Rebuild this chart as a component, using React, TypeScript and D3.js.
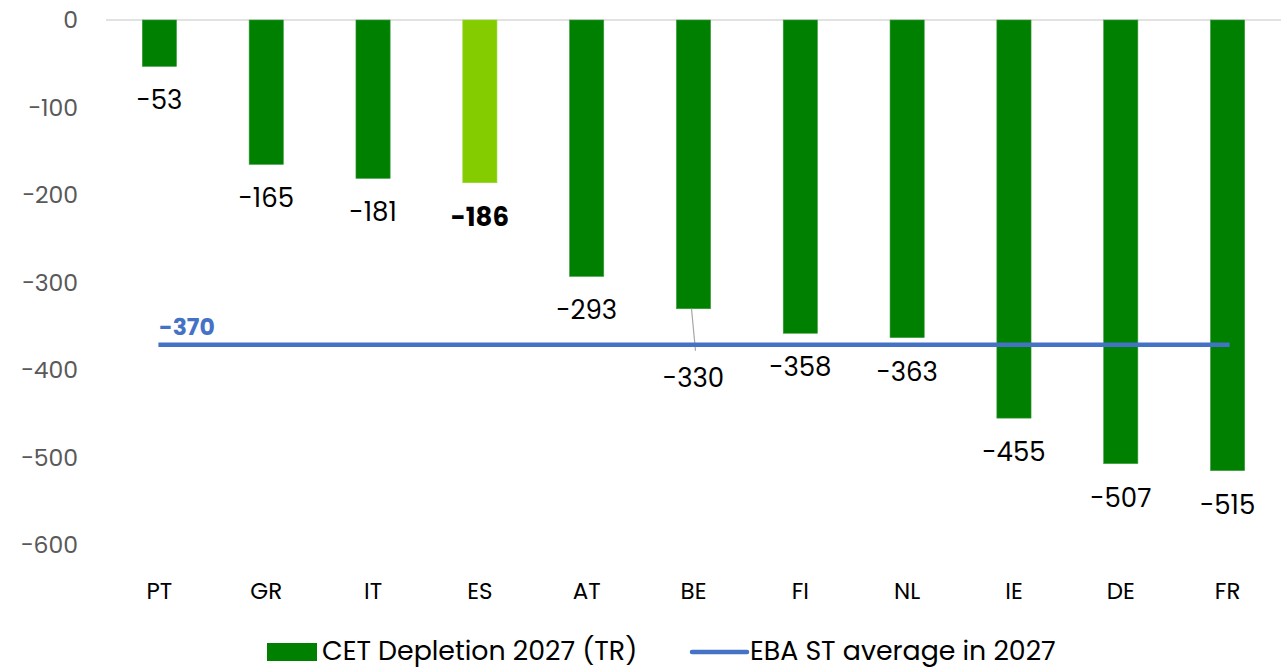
import React from "react";
import * as d3 from "d3";

const categories = ["PT", "GR", "IT", "ES", "AT", "BE", "FI", "NL", "IE", "DE", "FR"];
const depletion = [-53, -165, -181, -186, -293, -330, -358, -363, -455, -507, -515];
const highlight = ["ES"];
const ebaAverage = -370;
const yTicks = [0, -100, -200, -300, -400, -500, -600];
const seriesNames = ["CET Depletion 2027 (TR)", "EBA ST average in 2027"];

const W = 1281;
const H = 668;
const FONT = "Poppins, 'Open Sans', 'Noto Sans', sans-serif";

export default function App() {
  const x = d3.scaleBand<string>().domain(categories).range([106, 1281]).paddingInner(0.68).paddingOuter(0.34);
  const y = d3.scaleLinear().domain([0, -600]).range([20, 545]);
  const bw = x.bandwidth();
  const xc = (c: string) => (x(c) as number) + bw / 2;

  return (
    <svg
      width={W}
      height={H}
      style={{ position: "fixed", left: 0, top: 0, display: "block", fontFamily: FONT }}
    >
      <rect width={W} height={H} fill="#fff" />
      <line x1={106} x2={1281} y1={y(0)} y2={y(0)} stroke="#d9d9d9" strokeWidth={1.5} />
      {yTicks.map((t) => (
        <text key={t} x={78} y={y(t)} dy="0.35em" textAnchor="end" fontSize={23.5} fill="#595959">
          {d3.format("d")(t)}
        </text>
      ))}
      {categories.map((c, i) => {
        const v = depletion[i];
        const hl = highlight.includes(c);
        const moved = c === "BE";
        const ly = y(v) + (moved ? 69 : 34);
        return (
          <g key={c}>
            <rect
              x={x(c)}
              y={y(0)}
              width={bw}
              height={y(v) - y(0)}
              fill={hl ? "#84cc00" : "#008000"}
              stroke={hl ? "#96d83a" : "#3a9a3a"}
              strokeWidth={0.6}
            />
            {moved && (
              <line x1={xc(c) - 2} y1={y(v)} x2={xc(c) + 2} y2={ly - 27} stroke="#a6a6a6" strokeWidth={1.2} />
            )}
            <text
              x={xc(c)}
              y={ly}
              dy="0.35em"
              textAnchor="middle"
              fontSize={26}
              fontWeight={hl ? 700 : 400}
              fill="#000"
            >
              {v}
            </text>
            <text x={xc(c)} y={591} dy="0.35em" textAnchor="middle" fontSize={23} fill="#000">
              {c}
            </text>
          </g>
        );
      })}
      <line
        x1={xc(categories[0]) - 1}
        x2={xc(categories[categories.length - 1]) + 2}
        y1={y(ebaAverage) + 1}
        y2={y(ebaAverage) + 1}
        stroke="#4472c4"
        strokeWidth={4.5}
      />
      <text x={159} y={y(ebaAverage) - 17} dy="0.35em" fontSize={23.5} fontWeight={700} fill="#4472c4">
        {ebaAverage}
      </text>
      <rect x={267} y={643} width={50} height={18} fill="#008000" />
      <text x={322} y={651} dy="0.35em" fontSize={26.8} fill="#000">
        {seriesNames[0]}
      </text>
      <line x1={692} x2={747} y1={652} y2={652} stroke="#4472c4" strokeWidth={4.5} strokeLinecap="round" />
      <text x={750} y={651} dy="0.35em" fontSize={26.8} fill="#000">
        {seriesNames[1]}
      </text>
    </svg>
  );
}
